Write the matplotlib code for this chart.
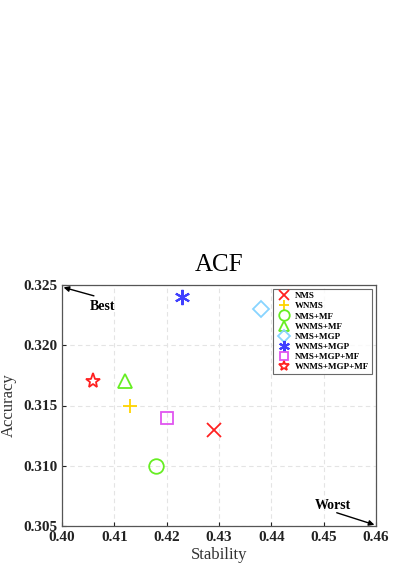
import matplotlib
matplotlib.use("Agg")
import matplotlib.pyplot as plt

labels = ["NMS", "WNMS", "NMS+MF", "WNMS+MF", "NMS+MGP", "WNMS+MGP", "NMS+MGP+MF", "WNMS+MGP+MF"]
stability = [0.429, 0.413, 0.418, 0.412, 0.438, 0.423, 0.420, 0.406]
accuracy = [0.313, 0.315, 0.310, 0.317, 0.323, 0.324, 0.314, 0.317]
markers = ["x", "+", "o", "^", "D", "*", "s", "*"]
colors = ["#ff2020", "#ffd400", "#66ee22", "#66ee22", "#88d4ff", "#4040ff", "#e055f0", "#ff2020"]
xticks = [0.40, 0.41, 0.42, 0.43, 0.44, 0.45, 0.46]
yticks = [0.305, 0.310, 0.315, 0.320, 0.325]

plt.rcParams['font.family'] = ['Liberation Serif', 'DejaVu Serif']
fig = plt.figure(figsize=(3.99, 5.65), dpi=100)
ax = fig.add_axes([62/399, 1 - 526/565, (376-62)/399, (526-285)/565])

for i, (lab, x, y, m, c) in enumerate(zip(labels, stability, accuracy, markers, colors)):
    if m == "*" and i == 5:
        ax.plot(x, y, linestyle='none', marker=(6, 2, 0), markersize=11, markeredgewidth=1.5,
                color=c, label=lab)
    elif m in ("x", "+"):
        ax.plot(x, y, linestyle='none', marker=m, markersize=10, markeredgewidth=1.3,
                color=c, label=lab)
    else:
        ms = {"o": 10.5, "^": 10, "D": 8, "s": 8.5, "*": 11}[m]
        ax.plot(x, y, linestyle='none', marker=m, markersize=ms, markeredgewidth=1.3,
                markerfacecolor='none', markeredgecolor=c, label=lab)

ax.set_xlim(0.40, 0.46)
ax.set_ylim(0.305, 0.325)
ax.set_xticks(xticks)
ax.set_xticklabels([f"{v:.2f}" for v in xticks])
ax.set_yticks(yticks)
ax.set_yticklabels([f"{v:.3f}" for v in yticks])
ax.tick_params(direction='in', length=3, labelsize=11, colors='#222222')
for lbl in ax.get_xticklabels() + ax.get_yticklabels():
    lbl.set_fontweight('bold')
ax.grid(True, linestyle=(0, (4, 3)), color='#e4e4e4', linewidth=0.8)
for s in ax.spines.values():
    s.set_color('#555555')
    s.set_linewidth(0.9)

ax.set_xlabel("Stability", fontsize=12, color='#333333', labelpad=2)
ax.set_ylabel("Accuracy", fontsize=12, color='#333333', labelpad=4)
ax.set_title("ACF", fontsize=18, pad=10)

ax.text(0.4078, 0.3232, "Best", fontsize=10, fontweight='bold', ha='center', va='center')
ax.annotate("", xy=(0.4003, 0.3248), xytext=(0.4061, 0.3241),
            arrowprops=dict(arrowstyle='-|>', color='black', lw=1, shrinkA=0, shrinkB=0, mutation_scale=8))
ax.text(0.4518, 0.3067, "Worst", fontsize=10, fontweight='bold', ha='center', va='center')
ax.annotate("", xy=(0.4597, 0.3051), xytext=(0.4525, 0.3061),
            arrowprops=dict(arrowstyle='-|>', color='black', lw=1, shrinkA=0, shrinkB=0, mutation_scale=8))

leg = ax.legend(loc='upper right', bbox_to_anchor=(0.988, 0.982), fontsize=6.5, frameon=True, fancybox=False,
                edgecolor='#444444', borderpad=0.3, labelspacing=0.2, handletextpad=0.4,
                handlelength=1.8, borderaxespad=0, markerscale=0.72)
for t in leg.get_texts():
    t.set_fontweight('bold')
leg.get_frame().set_linewidth(0.8)

fig.savefig("out.png", dpi=100)
